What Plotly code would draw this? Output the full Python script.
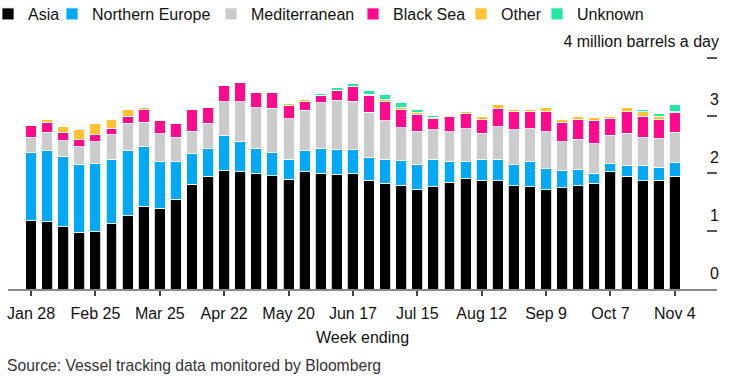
import plotly.graph_objects as go

weeks = ["Jan 28","Feb 4","Feb 11","Feb 18","Feb 25","Mar 4","Mar 11","Mar 18","Mar 25",
         "Apr 1","Apr 8","Apr 15","Apr 22","Apr 29","May 6","May 13","May 20","May 27",
         "Jun 3","Jun 10","Jun 17","Jun 24","Jul 1","Jul 8","Jul 15","Jul 22","Jul 29",
         "Aug 5","Aug 12","Aug 19","Aug 26","Sep 2","Sep 9","Sep 16","Sep 23","Sep 30",
         "Oct 7","Oct 14","Oct 21","Oct 28","Nov 4"]

asia = [1.18,1.16,1.08,0.98,0.99,1.13,1.27,1.43,1.40,1.55,1.81,1.95,2.05,2.03,2.00,1.96,1.90,2.03,
        2.00,1.98,2.00,1.88,1.83,1.80,1.72,1.77,1.85,1.91,1.88,1.87,1.79,1.77,1.72,1.75,1.80,1.83,
        2.03,1.95,1.87,1.88,1.95]
northern_europe = [1.18,1.23,1.22,1.17,1.19,1.12,1.12,1.04,0.80,0.65,0.54,0.48,0.60,0.52,0.43,0.40,0.35,0.36,
        0.43,0.43,0.41,0.39,0.42,0.42,0.44,0.48,0.36,0.30,0.37,0.38,0.36,0.44,0.37,0.30,0.27,0.17,
        0.15,0.18,0.27,0.23,0.24]
mediterranean = [0.27,0.32,0.27,0.31,0.37,0.42,0.48,0.42,0.49,0.43,0.38,0.44,0.59,0.69,0.71,0.77,0.70,0.70,
        0.79,0.86,0.84,0.79,0.66,0.57,0.57,0.51,0.51,0.56,0.45,0.56,0.61,0.56,0.63,0.50,0.52,0.51,
        0.48,0.57,0.49,0.50,0.52]
black_sea = [0.20,0.18,0.14,0.12,0.12,0.11,0.12,0.22,0.22,0.24,0.37,0.27,0.28,0.34,0.26,0.27,0.23,0.16,
        0.13,0.16,0.25,0.29,0.33,0.32,0.29,0.19,0.26,0.27,0.23,0.32,0.31,0.30,0.35,0.34,0.34,0.41,
        0.29,0.37,0.36,0.32,0.34]
other = [0.00,0.04,0.10,0.18,0.20,0.15,0.11,0.04,0.02,0.02,0.00,0.00,0.00,0.00,0.01,0.02,0.03,0.03,
        0.00,0.01,0.00,0.02,0.04,0.04,0.04,0.01,0.02,0.03,0.06,0.07,0.03,0.03,0.07,0.04,0.05,0.04,
        0.04,0.08,0.08,0.06,0.02]
unknown = [0.00,0.00,0.00,0.00,0.00,0.00,0.00,0.00,0.00,0.00,0.00,0.00,0.00,0.00,0.00,0.00,0.00,0.00,
        0.03,0.04,0.05,0.06,0.08,0.07,0.04,0.04,0.00,0.00,0.00,0.00,0.00,0.00,0.00,0.00,0.00,0.00,
        0.00,0.00,0.03,0.04,0.12]

series = [
    ("Asia", asia, "#000000", 19),
    ("Northern Europe", northern_europe, "#03A9F4", 114),
    ("Mediterranean", mediterranean, "#CCCCCC", 97),
    ("Black Sea", black_sea, "#FF0A8C", 63),
    ("Other", other, "#FFC233", 31),
    ("Unknown", unknown, "#22E8A2", 70),
]

y_tickvals = [0, 1, 2, 3, 4]
y_ticktext = ["0", "1", "2", "3", "4 million barrels a day"]
x_tickvals = weeks[::4]
y_range = [0, 4.5]

FONT = "Liberation Sans, Arial, sans-serif"

W, H = 730, 376
ml, mr, mt, mb = 8, 11, 29, 87
pw, ph = W - ml - mr, H - mt - mb
x_domain_end = (717 - ml) / pw          # x axis ends at 717 px; labels sit a little to the right
px_per_unit = ph / (y_range[1] - y_range[0])
label_lift = 16 / px_per_unit           # value labels sit just above their tick marks

fig = go.Figure()
for name, vals, color, lw in series:
    fig.add_trace(go.Bar(
        x=weeks, y=vals, name=name,
        marker=dict(color=color, line=dict(color="white", width=0.8)),
        legendwidth=lw,
    ))
# empty trace so the label axis (y2) is drawn
fig.add_trace(go.Scatter(x=[], y=[], yaxis="y2", showlegend=False, hoverinfo="skip"))

fig.update_layout(
    width=W, height=H,
    margin=dict(l=ml, r=mr, t=mt, b=mb, pad=0, autoexpand=False),
    barmode="stack", bargap=0.32,
    paper_bgcolor="white", plot_bgcolor="white",
    font=dict(family=FONT, size=16, color="#111111"),
    showlegend=True,
    legend=dict(orientation="h", x=(-12 - ml) / pw, xanchor="left",
                y=(H - mb - 14) / ph, yanchor="middle",
                bgcolor="rgba(0,0,0,0)", borderwidth=0,
                font=dict(size=16, color="#111111"), traceorder="normal"),
    annotations=[dict(
        text="Source: Vessel tracking data monitored by Bloomberg",
        xref="paper", yref="paper", x=(5 - ml) / pw, y=(H - mb - 365) / ph,
        xanchor="left", yanchor="middle", showarrow=False,
        font=dict(size=15.7, color="#333333"))],
    xaxis=dict(
        type="category", range=[-1.43, 42.62], domain=[0, x_domain_end],
        tickmode="array", tickvals=x_tickvals, ticktext=x_tickvals,
        showline=True, linecolor="#888888", linewidth=1.5,
        ticks="outside", ticklen=5, tickwidth=1.5, tickcolor="#444444",
        tickfont=dict(size=16, color="#111111"), ticklabelstandoff=4,
        showgrid=False, zeroline=False,
        title=dict(text="Week ending", font=dict(size=16, color="#111111"), standoff=11),
    ),
    # value axis: tick marks only, on the right edge
    yaxis=dict(range=y_range, side="right",
               tickmode="array", tickvals=y_tickvals,
               ticks="inside", ticklen=10, tickwidth=1.5, tickcolor="#555555",
               showticklabels=False, showgrid=False, zeroline=False, showline=False),
    # value labels, right-aligned just above each tick mark
    yaxis2=dict(range=[y_range[0] - label_lift, y_range[1] - label_lift],
                overlaying="y", anchor="free", position=1.0, side="left",
                tickmode="array", tickvals=y_tickvals, ticktext=y_ticktext,
                ticks="", ticklabelposition="outside",
                tickfont=dict(size=16, color="#111111"),
                showgrid=False, zeroline=False, showline=False),
)

fig.write_html("out.html", config={"displayModeBar": False},
               post_script="document.body.style.margin='0';")
